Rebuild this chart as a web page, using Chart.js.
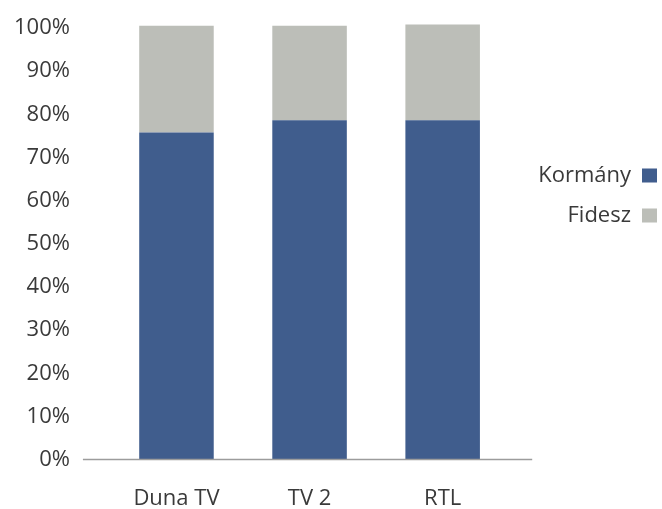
<!DOCTYPE html>
<html>
<head>
<meta charset="utf-8">
<script src="https://cdn.jsdelivr.net/npm/chart.js@4"></script>
<style>
  html, body { margin: 0; padding: 0; background: #fff; }
  #wrap { width: 662px; height: 509px; }
</style>
</head>
<body>
<div id="wrap"><canvas id="chart"></canvas></div>
<script>
// Values
var channels = ['Duna TV', 'TV 2', 'RTL'];
var kormany = [75.8, 78.6, 78.6];
var fidesz = [24.7, 21.9, 22.2];
var yTicks = [0, 10, 20, 30, 40, 50, 60, 70, 80, 90, 100];

// base line under the bars, a bit wider than the categories
var baseLine = {
    id: 'baseLine',
    afterDatasetsDraw: function(chart) {
        var ctx = chart.ctx;
        var a = chart.chartArea;
        var y = chart.scales.y.getPixelForValue(0);
        ctx.save();
        ctx.strokeStyle = '#9c9c9c';
        ctx.lineWidth = 1.5;
        ctx.beginPath();
        ctx.moveTo(a.left - 27, y);
        ctx.lineTo(a.right + 23, y);
        ctx.stroke();
        ctx.restore();
    }
};

// leave some white room between the bars and the legend
var wideLegend = {
    id: 'wideLegend',
    beforeLayout: function(chart) {
        var lg = chart.legend;
        if (lg && !lg._wide) {
            var fit = lg.fit;
            lg.fit = function() {
                fit.call(this);
                this.width += 19;
            };
            lg._wide = true;
        }
    }
};

Chart.defaults.font.family = '"Open Sans", sans-serif';
Chart.defaults.font.size = 22;
Chart.defaults.color = '#3a3a3a';

new Chart(document.getElementById('chart'), {
    type: 'bar',
    data: {
        labels: channels,
        datasets: [{
            label: 'Kormány',
            data: kormany,
            backgroundColor: '#405d8d',
            categoryPercentage: 1,
            barPercentage: 0.56
        }, {
            label: 'Fidesz',
            data: fidesz,
            backgroundColor: '#bcbeb8',
            categoryPercentage: 1,
            barPercentage: 0.56
        }]
    },
    options: {
        responsive: true,
        maintainAspectRatio: false,
        animation: false,
        layout: { padding: { left: 11, right: -13, top: 28, bottom: -5 } },
        plugins: {
            tooltip: { enabled: false },
            legend: {
                position: 'right',
                align: 'start',
                rtl: true,
                title: { display: true, text: '', padding: 46 },
                labels: {
                    boxWidth: 15,
                    boxHeight: 14,
                    padding: 18,
                    font: { size: 22 }
                }
            }
        },
        scales: {
            x: {
                stacked: true,
                grid: { display: true, drawOnChartArea: false, tickLength: 24, tickColor: 'transparent' },
                border: { display: false },
                ticks: { padding: 2 }
            },
            y: {
                stacked: true,
                min: 0,
                max: 100,
                afterBuildTicks: function(axis) {
                    axis.ticks = yTicks.map(function(v) { return { value: v }; });
                },
                grid: { display: true, drawOnChartArea: false, tickLength: 37, tickColor: 'transparent' },
                border: { display: false },
                ticks: {
                    padding: 3,
                    callback: function(v) { return v + '%'; }
                }
            }
        },
        datasets: { bar: { clip: false } }
    },
    plugins: [baseLine, wideLegend]
});
</script>
</body>
</html>
